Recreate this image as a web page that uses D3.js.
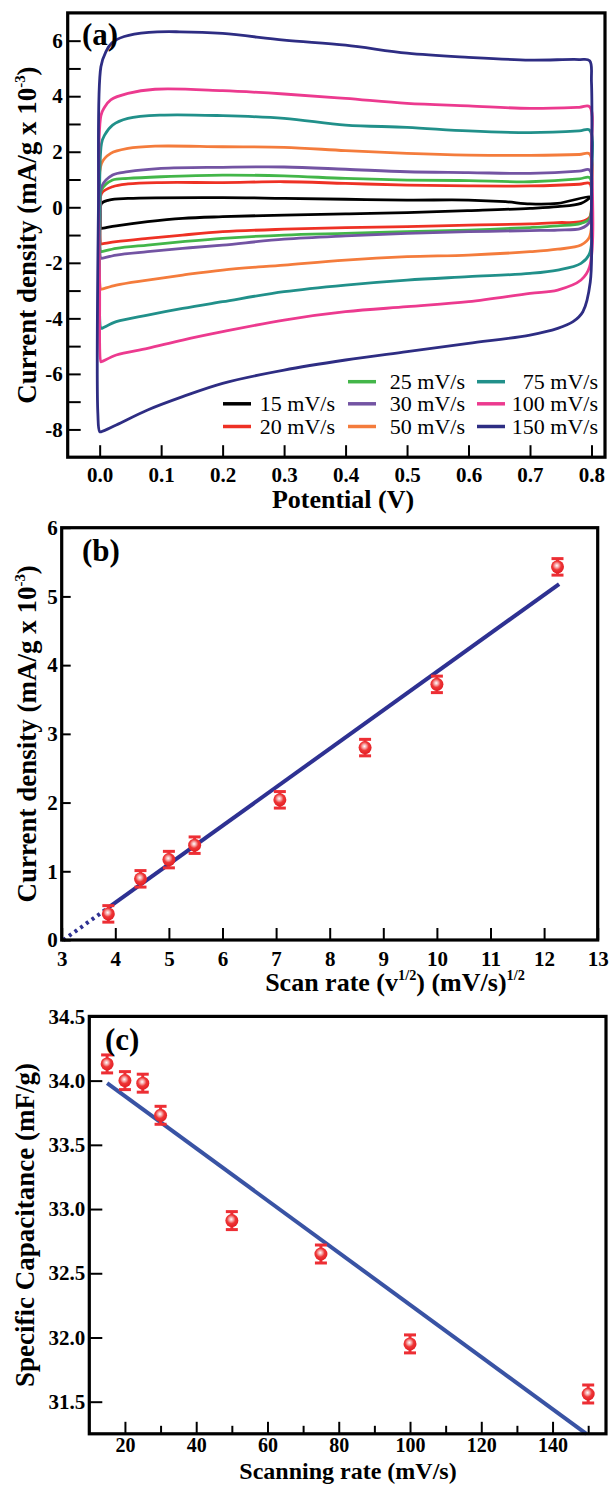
<!DOCTYPE html>
<html><head><meta charset="utf-8">
<script src="https://cdn.jsdelivr.net/npm/d3@7"></script>
<style>body{margin:0;background:#fff} svg text{font-family:"Liberation Serif","Times New Roman",serif}</style>
</head><body><svg id="fig" width="611" height="1485"></svg>
<script>
// ---------------- DATA ----------------
// Panel (a): cyclic voltammograms, [potential V, current density mA/g x1e-3]
const scanRates = ["15 mV/s","20 mV/s","25 mV/s","30 mV/s","50 mV/s","75 mV/s","100 mV/s","150 mV/s"];
const cvColors = ["#000000","#EE3124","#43B649","#7354A3","#F47C3C","#21908A","#EC3A8F","#2E2D83"];
const cv15 = [[0.002,-0.76],[0.001,-0.3],[0.003,0.14],[0.015,0.26],[0.046,0.32],[0.2,0.35],[0.3,0.32],[0.4,0.29],[0.5,0.26],[0.6,0.26],[0.66,0.2],[0.7,0.12],[0.745,0.14],[0.797,0.38],[0.797,0.35],[0.783,0.14],[0.745,0.02],[0.7,-0.04],[0.6,-0.12],[0.5,-0.19],[0.4,-0.24],[0.3,-0.28],[0.2,-0.34],[0.135,-0.4],[0.078,-0.52],[0.027,-0.67],[0.003,-0.76]];
const cv20 = [[0.002,-1.32],[0.001,0],[0.003,0.5],[0.021,0.74],[0.046,0.84],[0.1,0.89],[0.2,0.89],[0.3,0.92],[0.4,0.86],[0.5,0.8],[0.6,0.77],[0.7,0.77],[0.78,0.83],[0.797,0.86],[0.8,0.2],[0.797,-0.36],[0.783,-0.52],[0.745,-0.55],[0.7,-0.6],[0.6,-0.64],[0.5,-0.7],[0.4,-0.73],[0.3,-0.79],[0.2,-0.88],[0.135,-1.0],[0.078,-1.12],[0.027,-1.24],[0.003,-1.32]];
const cv25 = [[0.002,-1.6],[0.001,0],[0.003,0.62],[0.021,0.98],[0.046,1.04],[0.1,1.1],[0.2,1.16],[0.3,1.13],[0.4,1.04],[0.5,0.98],[0.6,0.96],[0.7,0.92],[0.78,1.02],[0.797,1.07],[0.8,0.3],[0.797,-0.4],[0.783,-0.58],[0.745,-0.67],[0.7,-0.73],[0.6,-0.82],[0.5,-0.88],[0.4,-0.94],[0.3,-1.0],[0.2,-1.12],[0.135,-1.24],[0.078,-1.36],[0.027,-1.48],[0.003,-1.6]];
const cv30 = [[0.002,-1.84],[0.001,0],[0.003,0.74],[0.021,1.16],[0.046,1.28],[0.1,1.4],[0.2,1.44],[0.3,1.45],[0.4,1.37],[0.5,1.28],[0.6,1.25],[0.7,1.22],[0.78,1.3],[0.797,1.34],[0.8,0.4],[0.797,-0.52],[0.783,-0.76],[0.745,-0.82],[0.7,-0.84],[0.6,-0.88],[0.5,-0.94],[0.4,-1.03],[0.3,-1.15],[0.2,-1.36],[0.135,-1.48],[0.078,-1.6],[0.027,-1.72],[0.003,-1.84]];
const cv50 = [[0.002,-2.95],[0.0,0],[0.003,1.58],[0.018,1.94],[0.046,2.12],[0.09,2.2],[0.2,2.18],[0.3,2.16],[0.4,2.04],[0.5,1.94],[0.6,1.88],[0.7,1.87],[0.78,1.9],[0.797,1.92],[0.8,0.5],[0.797,-1.06],[0.783,-1.36],[0.745,-1.51],[0.7,-1.6],[0.6,-1.72],[0.5,-1.78],[0.4,-1.9],[0.3,-2.08],[0.2,-2.26],[0.135,-2.44],[0.078,-2.62],[0.027,-2.8],[0.003,-2.95]];
const cv75 = [[0.002,-4.36],[0.0,-1],[0.003,2.3],[0.008,2.6],[0.021,2.96],[0.046,3.2],[0.1,3.32],[0.2,3.3],[0.3,3.2],[0.4,2.96],[0.5,2.88],[0.6,2.75],[0.7,2.69],[0.78,2.75],[0.797,2.78],[0.8,1],[0.797,-1.66],[0.783,-2.02],[0.745,-2.26],[0.7,-2.38],[0.6,-2.5],[0.5,-2.62],[0.4,-2.8],[0.3,-3.04],[0.2,-3.4],[0.135,-3.64],[0.078,-3.88],[0.027,-4.12],[0.003,-4.36]];
const cv100 = [[0.002,-5.56],[0.0,-3],[0.002,3.3],[0.008,3.6],[0.018,3.87],[0.046,4.1],[0.09,4.25],[0.2,4.2],[0.3,4.08],[0.4,3.92],[0.5,3.74],[0.6,3.65],[0.7,3.56],[0.78,3.6],[0.797,3.62],[0.8,2],[0.797,-2.14],[0.783,-2.62],[0.745,-2.98],[0.7,-3.1],[0.6,-3.4],[0.5,-3.58],[0.4,-3.76],[0.3,-4.06],[0.2,-4.48],[0.135,-4.78],[0.078,-5.08],[0.027,-5.32],[0.003,-5.56]];
const cv150 = [[0.0,-8.08],[-0.003,-7.4],[-0.002,0],[0.002,5.06],[0.01,5.6],[0.02,5.92],[0.04,6.15],[0.08,6.3],[0.13,6.32],[0.2,6.26],[0.3,6.02],[0.4,5.84],[0.5,5.55],[0.6,5.40],[0.7,5.30],[0.78,5.32],[0.797,5.28],[0.8,4.5],[0.8,0],[0.798,-2.7],[0.786,-3.76],[0.77,-4.12],[0.745,-4.36],[0.7,-4.6],[0.6,-4.9],[0.5,-5.2],[0.4,-5.5],[0.3,-5.86],[0.2,-6.34],[0.135,-6.82],[0.078,-7.3],[0.027,-7.84],[0.003,-8.08]];
const cvCurves = [cv15, cv20, cv25, cv30, cv50, cv75, cv100, cv150];

// Panel (b): current density vs sqrt(scan rate)
const sqrtRate = [3.87, 4.47, 5.0, 5.48, 7.07, 8.66, 10.0, 12.25];
const currentB = [0.38, 0.89, 1.17, 1.38, 2.04, 2.80, 3.72, 5.43];
const errB = [0.12, 0.12, 0.12, 0.12, 0.12, 0.12, 0.12, 0.12];
const fitBx = [3.03, 3.87, 12.28];
const fitBy = [0.0, 0.47, 5.18];

// Panel (c): specific capacitance vs scan rate
const scanRateC = [15, 20, 25, 30, 50, 75, 100, 150];
const capC = [34.13, 34.00, 33.98, 33.73, 32.91, 32.65, 31.95, 31.56];
const errC = [0.07, 0.07, 0.07, 0.07, 0.07, 0.07, 0.07, 0.07];
const fitCx = [15, 149.5];
const fitCy = [33.98, 31.25];

// tick values
const aYTicks = [-8,-7,-6,-5,-4,-3,-2,-1,0,1,2,3,4,5,6];
const aXTicks = [0.0,0.1,0.2,0.3,0.4,0.5,0.6,0.7,0.8];
const bXTicks = [3,4,5,6,7,8,9,10,11,12,13];
const bYTicks = [0,1,2,3,4,5,6];
const cXTicks = [20,30,40,50,60,70,80,90,100,110,120,130,140,150];
const cYTicks = [31.5,32.0,32.5,33.0,33.5,34.0,34.5];

// ---------------- DRAW ----------------
const svg = d3.select("#fig");
const defs = svg.append("defs");
const grad = defs.append("radialGradient").attr("id","ball").attr("cx","45%").attr("cy","40%").attr("r","60%");
grad.append("stop").attr("offset","0%").attr("stop-color","#ffffff");
grad.append("stop").attr("offset","28%").attr("stop-color","#f6a3a3");
grad.append("stop").attr("offset","55%").attr("stop-color","#ee3636");
grad.append("stop").attr("offset","100%").attr("stop-color","#e31e24");

const TICKF = 21;
function styleAxis(g, fs){
  g.select(".domain").remove();
  g.selectAll(".tick line").attr("stroke","#000").attr("stroke-width",2);
  g.selectAll(".tick text").attr("font-size",fs).attr("font-weight","bold")
   .attr("font-family","'Liberation Serif',serif").attr("fill","#000");
}
function frame(x0,x1,y0,y1){
  svg.append("rect").attr("x",x0).attr("y",y0).attr("width",x1-x0).attr("height",y1-y0)
    .attr("fill","none").attr("stroke","#000").attr("stroke-width",3.2);
}
function supText(t, parts, fs){
  parts.forEach(([s,sup],i)=>{
    const ts = t.append("tspan").text(s);
    if(sup){ ts.attr("font-size",fs*0.55).attr("dy",-fs*0.42); }
    else if(i>0 && parts[i-1][1]){ ts.attr("dy",fs*0.42); }
  });
}

// ===== Panel (a) =====
const A = {x0:67.7, x1:605, y0:12.9, y1:457.2};
const xA = d3.scaleLinear().domain([-0.052,0.822]).range([A.x0,A.x1]);
const yA = d3.scaleLinear().domain([-9,7]).range([A.y1,A.y0]);
const lineA = d3.line().x(d=>xA(d[0])).y(d=>yA(d[1])).curve(d3.curveCatmullRomClosed.alpha(0.5));
cvCurves.forEach((c,i)=>{
  svg.append("path").attr("d",lineA(c)).attr("fill","none").attr("stroke",cvColors[i])
    .attr("stroke-width",2.8).attr("stroke-linejoin","round");
});
svg.append("g").attr("transform",`translate(${A.x0},0)`)
  .call(d3.axisLeft(yA).tickValues(aYTicks).tickSize(-13).tickPadding(5)
    .tickFormat(d=> d%2===0 ? String(d) : ""))
  .call(g=>styleAxis(g,TICKF));
svg.append("g").attr("transform",`translate(0,${A.y1})`)
  .call(d3.axisBottom(xA).tickValues(aXTicks).tickSize(-12).tickPadding(10).tickFormat(d3.format(".1f")))
  .call(g=>styleAxis(g,TICKF));
frame(A.x0,A.x1,A.y0,A.y1);
svg.append("text").attr("x",82).attr("y",45).attr("font-size",31).attr("font-weight","bold").text("(a)");
svg.append("text").attr("x",343).attr("y",508).attr("text-anchor","middle").attr("font-size",26)
  .attr("font-weight","bold").text("Potential (V)");
{
  const t = svg.append("text").attr("transform",`translate(36,${(A.y0+A.y1)/2}) rotate(-90)`)
    .attr("text-anchor","middle").attr("font-size",27).attr("font-weight","bold");
  supText(t,[["Current density (mA/g x 10",false],["-3",true],[")",false]],27);
}
// legend
const legPos = [
  {lx:223, tx:335, row:1}, {lx:223, tx:335, row:2},
  {lx:348, tx:465, row:0}, {lx:348, tx:465, row:1}, {lx:348, tx:465, row:2},
  {lx:477, tx:598, row:0}, {lx:477, tx:598, row:1}, {lx:477, tx:598, row:2}
];
const legRowY = [381.7, 403.8, 426.5];
scanRates.forEach((s,i)=>{
  const p = legPos[i], yy = legRowY[p.row];
  svg.append("line").attr("x1",p.lx).attr("x2",p.lx+28).attr("y1",yy).attr("y2",yy)
    .attr("stroke",cvColors[i]).attr("stroke-width",3.5);
  svg.append("text").attr("x",p.tx).attr("y",yy+7.5).attr("text-anchor","end")
    .attr("font-size",22).text(s);
});

// ===== Panel (b) =====
const B = {x0:61.7, x1:597.7, y0:527.7, y1:940};
const xB = d3.scaleLinear().domain([3,13]).range([B.x0,B.x1]);
const yB = d3.scaleLinear().domain([0,6]).range([B.y1,B.y0]);
svg.append("line").attr("x1",xB(fitBx[0])).attr("y1",yB(fitBy[0])).attr("x2",xB(fitBx[1])).attr("y2",yB(fitBy[1]))
  .attr("stroke","#2E3192").attr("stroke-width",4).attr("stroke-dasharray","3,4");
svg.append("line").attr("x1",xB(fitBx[1])).attr("y1",yB(fitBy[1])).attr("x2",xB(fitBx[2])).attr("y2",yB(fitBy[2]))
  .attr("stroke","#2E3192").attr("stroke-width",4);
function points(xs, ys, es, sx, sy){
  xs.forEach((xv,i)=>{
    const cx = sx(xv), top = sy(ys[i]+es[i]), bot = sy(ys[i]-es[i]);
    const g = svg.append("g").attr("stroke","#ED2E34").attr("stroke-width",3);
    g.append("line").attr("x1",cx).attr("x2",cx).attr("y1",top).attr("y2",bot);
    g.append("line").attr("x1",cx-6).attr("x2",cx+6).attr("y1",top).attr("y2",top);
    g.append("line").attr("x1",cx-6).attr("x2",cx+6).attr("y1",bot).attr("y2",bot);
    svg.append("circle").attr("cx",cx).attr("cy",sy(ys[i])).attr("r",6.5).attr("fill","url(#ball)");
  });
}
points(sqrtRate, currentB, errB, xB, yB);
svg.append("g").attr("transform",`translate(${B.x0},0)`)
  .call(d3.axisLeft(yB).tickValues(bYTicks).tickSize(-9).tickPadding(4).tickFormat(d3.format("d")))
  .call(g=>styleAxis(g,TICKF));
svg.append("g").attr("transform",`translate(0,${B.y1})`)
  .call(d3.axisBottom(xB).tickValues(bXTicks).tickSize(-12).tickPadding(11).tickFormat(d3.format("d")))
  .call(g=>styleAxis(g,TICKF));
frame(B.x0,B.x1,B.y0,B.y1);
svg.append("text").attr("x",82).attr("y",561).attr("font-size",31).attr("font-weight","bold").text("(b)");
{
  const t = svg.append("text").attr("x",395).attr("y",991).attr("text-anchor","middle")
    .attr("font-size",26).attr("font-weight","bold");
  supText(t,[["Scan rate (v",false],["1/2",true],[") (mV/s)",false],["1/2",true]],26);
}
{
  const t = svg.append("text").attr("transform",`translate(36,${(B.y0+B.y1)/2}) rotate(-90)`)
    .attr("text-anchor","middle").attr("font-size",27).attr("font-weight","bold");
  supText(t,[["Current density (mA/g x 10",false],["-3",true],[")",false]],27);
}

// ===== Panel (c) =====
const C = {x0:89.3, x1:606, y0:1016.4, y1:1433.8};
const xC = d3.scaleLinear().domain([10,155]).range([C.x0,C.x1]);
const yC = d3.scaleLinear().domain([31.25,34.5]).range([C.y1,C.y0]);
svg.append("line").attr("x1",xC(fitCx[0])).attr("y1",yC(fitCy[0])).attr("x2",xC(fitCx[1])).attr("y2",yC(fitCy[1]))
  .attr("stroke","#3953A4").attr("stroke-width",4);
points(scanRateC, capC, errC, xC, yC);
svg.append("g").attr("transform",`translate(${C.x0},0)`)
  .call(d3.axisLeft(yC).tickValues(cYTicks).tickSize(-13).tickPadding(4).tickFormat(d3.format(".1f")))
  .call(g=>styleAxis(g,TICKF));
const gcx = svg.append("g").attr("transform",`translate(0,${C.y1})`)
  .call(d3.axisBottom(xC).tickValues(cXTicks).tickSize(-12).tickPadding(4)
    .tickFormat(d=> d%20===0 ? String(d) : ""))
  .call(g=>styleAxis(g,20));
gcx.selectAll(".tick line").attr("y2",d=> d%20===0 ? -12 : -8);
frame(C.x0,C.x1,C.y0,C.y1);
svg.append("text").attr("x",105).attr("y",1050).attr("font-size",31).attr("font-weight","bold").text("(c)");
svg.append("text").attr("x",348).attr("y",1479).attr("text-anchor","middle").attr("font-size",24)
  .attr("font-weight","bold").text("Scanning rate (mV/s)");
svg.append("text").attr("transform",`translate(34,${(C.y0+C.y1)/2}) rotate(-90)`)
  .attr("text-anchor","middle").attr("font-size",27).attr("font-weight","bold").text("Specific Capacitance (mF/g)");
</script></body></html>
